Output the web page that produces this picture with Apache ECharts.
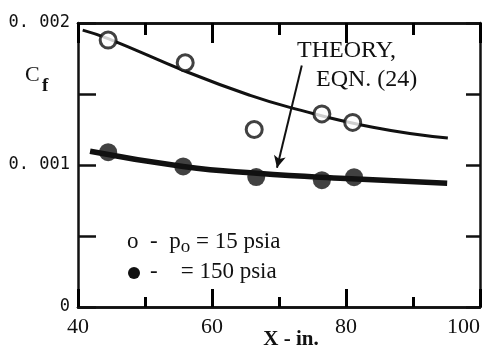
<!DOCTYPE html>
<html><head><meta charset="utf-8">
<script src="https://cdn.jsdelivr.net/npm/echarts@6/dist/echarts.min.js"></script>
<style>html,body{margin:0;padding:0;background:#fff}#c{width:491px;height:348px}</style>
</head><body><div id="c"></div>
<script>
// Data
const xOpen15 = [44.5, 56.0, 66.3, 76.4, 81.0];
const cfOpen15 = [0.00188, 0.00172, 0.00125, 0.00136, 0.00130];
const xFilled150 = [44.5, 55.7, 66.6, 76.4, 81.2];
const cfFilled150 = [0.00109, 0.00099, 0.000915, 0.000893, 0.000914];
const xTheoryUpper = [40.7, 44.5, 56.3, 65.7, 71.6, 84.0, 95.2];
const cfTheoryUpper = [0.00195, 0.00189, 0.001655, 0.00149, 0.001406, 0.001266, 0.00119];
const xTheoryLower = [41.8, 55.7, 66.7, 80.0, 95.1];
const cfTheoryLower = [0.001097, 0.00099, 0.000942, 0.000905, 0.000872];
const arrowFrom = [73.4, 0.00170];
const arrowTo = [69.7, 0.00098];
const xTicks = [40, 60, 80, 100];
const yTicks = [0, 0.001, 0.002];

const zip = (a, b) => a.map((v, i) => [v, b[i]]);
const ink = '#111';
const chart = echarts.init(document.getElementById('c'));
function xAx(pos, interval, len, labels) {
  return {
    type: 'value', min: 40, max: 100, interval: interval, position: pos,
    axisLine: {show: true, onZero: false, lineStyle: {color: ink, width: 2.5}},
    axisTick: {show: true, inside: true, length: len, lineStyle: {color: '#000', width: 3}},
    splitLine: {show: false},
    axisLabel: labels ? {show: true, color: ink, fontFamily: 'Liberation Serif', fontSize: 22, margin: 9,
      alignMaxLabel: 'right',
      formatter: v => xTicks.includes(v) ? String(v) : ''} : {show: false}
  };
}
function yAx(pos, len, labels) {
  return {
    type: 'value', min: 0, max: 0.002, interval: 0.0005, position: pos,
    axisLine: {show: true, onZero: false, lineStyle: {color: ink, width: 2.5}},
    axisTick: {show: true, inside: true, length: len, lineStyle: {color: ink, width: 2.5}},
    splitLine: {show: false},
    axisLabel: labels ? {show: true, color: ink, fontFamily: 'DejaVu Sans Mono', fontSize: 17, margin: 8,
      formatter: v => {
        const m = yTicks.find(t => Math.abs(t - v) < 1e-9);
        if (m === undefined) return '';
        return m === 0 ? '0' : m.toFixed(3).replace('.', '. ');
      }} : {show: false}
  };
}
const xBottom = xAx('bottom', 20, 18, true);
xBottom.name = 'X - in.';
xBottom.nameLocation = 'middle';
xBottom.nameGap = 22;
xBottom.nameMoveOverlap = false;
xBottom.nameTextStyle = {color: ink, fontFamily: 'Liberation Serif', fontWeight: 'bold', fontSize: 21, padding: [0, 0, 0, 24]};

chart.setOption({
  animation: false,
  backgroundColor: '#fff',
  grid: {left: 78, right: 11, top: 23, bottom: 41, outerBoundsMode: 'none', containLabel: false},
  xAxis: [xBottom, xAx('bottom', 10, 10, false), xAx('top', 20, 20, false), xAx('top', 10, 12, false)],
  yAxis: [yAx('left', 18, true), yAx('right', 14, false)],
  graphic: [
    {type: 'text', left: 25, top: 64, style: {text: 'C', font: '22px "Liberation Serif"', fill: ink}},
    {type: 'text', left: 42, top: 77, style: {text: 'f', font: 'bold 19px "Liberation Serif"', fill: ink}},
    {type: 'text', left: 297, top: 39, style: {text: 'THEORY,', font: '24px "Liberation Serif"', fill: ink}},
    {type: 'text', left: 316, top: 68, style: {text: 'EQN. (24)', font: '24px "Liberation Serif"', fill: ink}},
    {type: 'text', left: 127, top: 230, style: {
      rich: {t: {font: '23px "Liberation Serif"', fill: ink}, s: {font: '19px "Liberation Serif"', fill: ink, padding: [11, 0, 0, 0]}},
      text: '{t|o  -  p}{s|o}{t| = 15 psia}'}},
    {type: 'circle', shape: {cx: 134, cy: 273, r: 6}, style: {fill: ink}},
    {type: 'text', left: 150, top: 260, style: {text: '-    = 150 psia', font: '23px "Liberation Serif"', fill: ink}}
  ],
  series: [
    {type: 'line', data: zip(xTheoryUpper, cfTheoryUpper), smooth: 0.5, symbol: 'none',
      lineStyle: {color: ink, width: 3}, z: 2},
    {type: 'line', data: zip(xTheoryLower, cfTheoryLower), smooth: 0.5, symbol: 'none',
      lineStyle: {color: ink, width: 5.5}, z: 2,
      markLine: {silent: true, symbol: ['none', 'arrow'], symbolSize: [9, 12],
        lineStyle: {color: ink, width: 2, type: 'solid'}, label: {show: false},
        data: [[{coord: arrowFrom}, {coord: arrowTo}]]}},
    {type: 'scatter', data: zip(xOpen15, cfOpen15), symbol: 'circle', symbolSize: 16,
      itemStyle: {color: '#fff', borderColor: ink, borderWidth: 3}, z: 4},
    {type: 'scatter', data: zip(xFilled150, cfFilled150), symbol: 'circle', symbolSize: 18,
      itemStyle: {color: ink}, z: 4}
  ]
});
</script></body></html>
